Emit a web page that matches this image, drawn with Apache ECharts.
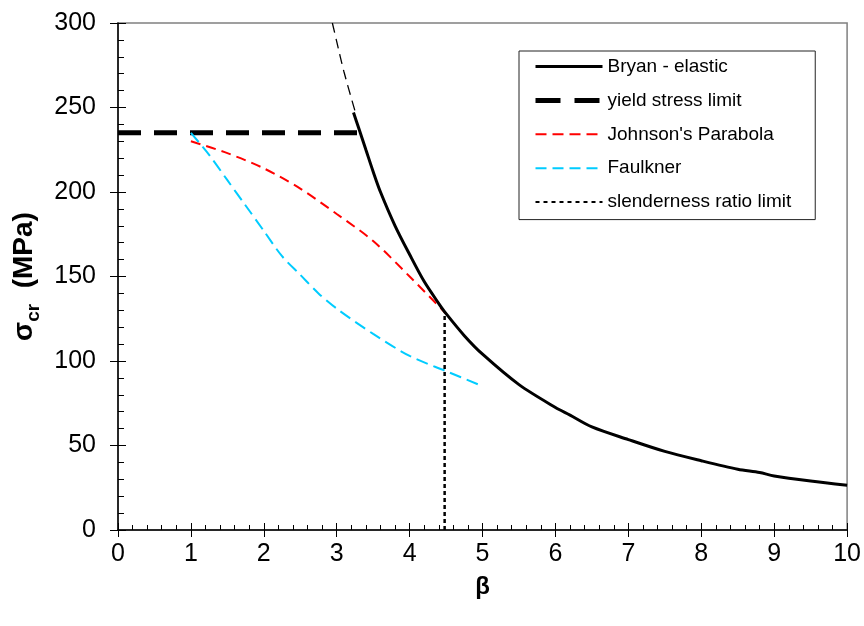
<!DOCTYPE html>
<html>
<head>
<meta charset="utf-8">
<script src="https://cdn.jsdelivr.net/npm/echarts@6/dist/echarts.min.js"></script>
<style>
html,body{margin:0;padding:0;background:#fff;}
#chart{width:864px;height:626px;}
</style>
</head>
<body>
<div id="chart"></div>
<script>
// ---- data ----
const xTicks = [0, 1, 2, 3, 4, 5, 6, 7, 8, 9, 10];
const yTicks = [0, 50, 100, 150, 200, 250, 300];

const bryanBeta  = [3.23, 3.3, 3.4, 3.5, 3.6, 3.8, 4.0, 4.2, 4.4, 4.5, 4.75, 5.0, 5.5, 6.0, 6.2, 6.5, 7.0, 7.5, 8.0, 8.5, 8.8, 9.0, 9.5, 10.0];
const bryanSigma = [247, 238, 225, 212, 200, 180, 163, 147, 134, 128, 115, 104, 86, 72.5, 68, 61, 53.5, 46.5, 41, 36, 34, 32, 29, 26.5];

const bryanExtBeta  = [2.94, 3.0, 3.1, 3.25];
const bryanExtSigma = [300, 289, 271, 248];

const yieldBeta  = [0, 3.31];
const yieldSigma = [235, 235];

const johnsonBeta  = [1.0, 1.5, 2.0, 2.5, 3.0, 3.5, 4.0, 4.5];
const johnsonSigma = [230, 223, 214, 202, 187, 171, 150, 128];

const faulknerBeta  = [1.0, 1.25, 1.5, 1.75, 2.0, 2.25, 2.5, 2.75, 3.0, 3.5, 4.0, 4.5, 4.95];
const faulknerSigma = [235, 222, 207, 192, 177, 162, 151, 140, 131, 116, 103, 94, 86];

const slenderBeta  = [4.48, 4.48];
const slenderSigma = [0, 128];

const seriesNames = ['Bryan - elastic', 'yield stress limit', "Johnson's Parabola", 'Faulkner', 'slenderness ratio limit'];

function pairs(xs, ys) { return xs.map((x, i) => [x, ys[i]]); }

const FONT = 'Liberation Sans, Arial, sans-serif';
const chart = echarts.init(document.getElementById('chart'), null, {renderer: 'canvas'});

const axisCommonX = {type: 'value', min: 0, max: 10, interval: 1};
const axisCommonY = {type: 'value', min: 0, max: 300, interval: 50};
const hideSym = {color: 'transparent', borderColor: 'transparent', borderWidth: 0, opacity: 0};

chart.setOption({
  animation: false,
  backgroundColor: '#fff',
  grid: {left: 118, right: 16, top: 23, bottom: 96, show: true, borderColor: '#808080', borderWidth: 1.5, backgroundColor: 'transparent'},
  legend: {
    orient: 'vertical',
    left: 519, top: 51,
    padding: [6, 24, 8, 14],
    itemWidth: 67, itemHeight: 14, itemGap: 14.9,
    borderColor: '#222', borderWidth: 1,
    backgroundColor: '#fff',
    textStyle: {fontFamily: FONT, fontSize: 19, color: '#000'},
    data: [
      {name: seriesNames[0], itemStyle: hideSym, lineStyle: {width: 3, color: '#000', type: 'solid'}},
      {name: seriesNames[1], itemStyle: hideSym, lineStyle: {width: 5, color: '#000', type: [25, 14]}},
      {name: seriesNames[2], itemStyle: hideSym, lineStyle: {width: 2, color: '#ff0000', type: [11, 6]}},
      {name: seriesNames[3], itemStyle: hideSym, lineStyle: {width: 2, color: '#00ccff', type: [11, 6]}},
      {name: seriesNames[4], itemStyle: hideSym, lineStyle: {width: 2, color: '#000', type: [4, 4]}}
    ]
  },
  xAxis: [
    Object.assign({}, axisCommonX, {
      position: 'bottom',
      name: 'β', nameLocation: 'middle', nameGap: 45,
      nameTextStyle: {fontFamily: FONT, fontSize: 24, fontWeight: 'bold', color: '#000'},
      axisLine: {show: true, onZero: false, lineStyle: {color: '#000', width: 1.5}},
      axisTick: {show: true, inside: false, length: 7, lineStyle: {color: '#000', width: 1}},
      axisLabel: {show: true, margin: 12, fontFamily: FONT, fontSize: 25, color: '#000', formatter: v => String(v)},
      splitLine: {show: false}
    }),
    Object.assign({}, axisCommonX, {
      position: 'bottom',
      axisLine: {show: false},
      axisTick: {show: true, inside: true, length: 7, lineStyle: {color: '#000', width: 1}},
      minorTick: {show: true, splitNumber: 5, length: 5, lineStyle: {color: '#000', width: 1}},
      axisLabel: {show: false},
      splitLine: {show: false}
    })
  ],
  yAxis: [
    Object.assign({}, axisCommonY, {
      position: 'left',
      name: '{a|σ}{b|cr}{a|  (MPa)}', nameLocation: 'middle', nameGap: 66,
      nameTextStyle: {
        fontFamily: FONT, fontSize: 28, fontWeight: 'bold', color: '#000',
        rich: {
          a: {fontFamily: FONT, fontSize: 28, fontWeight: 'bold', color: '#000', verticalAlign: 'bottom', lineHeight: 30},
          b: {fontFamily: FONT, fontSize: 19, fontWeight: 'bold', color: '#000', verticalAlign: 'bottom', lineHeight: 22, padding: [0, 0, -5, 0]}
        }
      },
      axisLine: {show: true, onZero: false, lineStyle: {color: '#000', width: 1.5}},
      axisTick: {show: true, inside: false, length: 8, lineStyle: {color: '#000', width: 1}},
      axisLabel: {show: true, margin: 22, fontFamily: FONT, fontSize: 25, color: '#000'},
      splitLine: {show: false}
    }),
    Object.assign({}, axisCommonY, {
      position: 'left',
      axisLine: {show: false},
      axisTick: {show: true, inside: true, length: 8, lineStyle: {color: '#000', width: 1}},
      minorTick: {show: true, splitNumber: 5, length: 6, lineStyle: {color: '#000', width: 1}},
      axisLabel: {show: false},
      splitLine: {show: false}
    })
  ],
  series: [
    {name: seriesNames[1], type: 'line', data: pairs(yieldBeta, yieldSigma), symbol: 'none', z: 3,
     lineStyle: {color: '#000', width: 5, type: [23, 13]}, itemStyle: {color: '#000'}},
    {name: seriesNames[2], type: 'line', data: pairs(johnsonBeta, johnsonSigma), symbol: 'none', smooth: 0.3, z: 3,
     lineStyle: {color: '#ff0000', width: 2, type: [10, 6]}, itemStyle: {color: '#ff0000'}},
    {name: seriesNames[3], type: 'line', data: pairs(faulknerBeta, faulknerSigma), symbol: 'none', smooth: 0.3, z: 3,
     lineStyle: {color: '#00ccff', width: 2, type: [12, 6]}, itemStyle: {color: '#00ccff'}},
    {name: seriesNames[4], type: 'line', data: pairs(slenderBeta, slenderSigma), symbol: 'none', z: 3,
     lineStyle: {color: '#000', width: 2.5, type: [4, 3]}, itemStyle: {color: '#000'}},
    {name: seriesNames[0], type: 'line', data: pairs(bryanBeta, bryanSigma), symbol: 'none', smooth: 0.3, z: 4,
     lineStyle: {color: '#000', width: 3}, itemStyle: {color: '#000'}},
    {name: 'elastic-ext', type: 'line', data: pairs(bryanExtBeta, bryanExtSigma), symbol: 'none', smooth: 0.3, z: 4,
     lineStyle: {color: '#000', width: 1.3, type: [10, 6]}, itemStyle: {color: '#000'}}
  ]
});
</script>
</body>
</html>
